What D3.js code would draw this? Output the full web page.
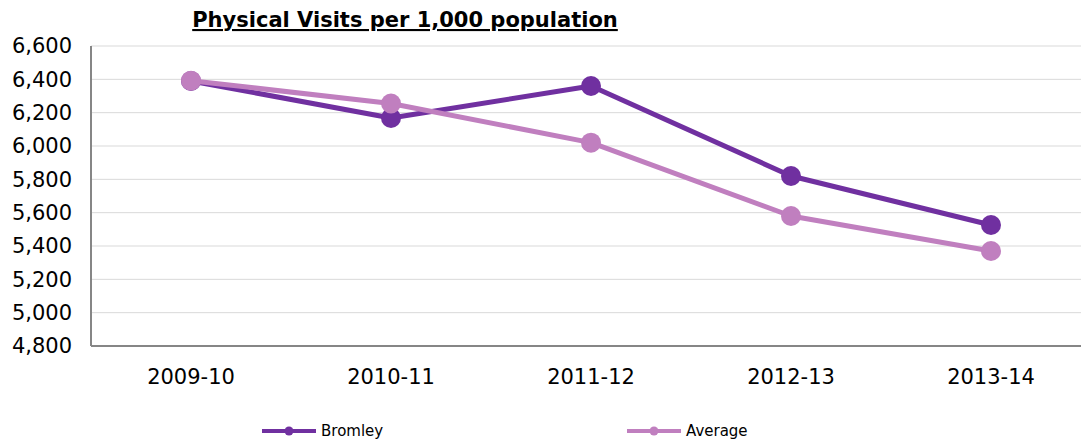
<!DOCTYPE html>
<html>
<head>
<meta charset="utf-8">
<script src="https://cdn.jsdelivr.net/npm/d3@7"></script>
<style>
  body { margin: 0; background: #fff; }
  svg { display: block; font-family: "DejaVu Sans", Verdana, sans-serif; }
</style>
</head>
<body>
<svg id="chart" width="1081" height="441"></svg>
<script>
const years = ['2009-10', '2010-11', '2011-12', '2012-13', '2013-14'];
const bromley = [6390, 6168, 6360, 5820, 5526];
const average = [6392, 6255, 6020, 5580, 5370];
const yTicks = [4800, 5000, 5200, 5400, 5600, 5800, 6000, 6200, 6400, 6600];

const series = [
    { name: 'Bromley', values: bromley, color: '#7030a0' },
    { name: 'Average', values: average, color: '#c07fbf' }
];

const svg = d3.select('#chart');
const margin = { left: 91, top: 46, right: -10, bottom: 95 };
const width = 1081 - margin.left - margin.right;
const height = 441 - margin.top - margin.bottom;

const x = d3.scaleBand().domain(years).range([0, width]);
const y = d3.scaleLinear().domain([4800, 6600]).range([height, 0]);

const g = svg.append('g').attr('transform', `translate(${margin.left},${margin.top})`);

// gridlines
g.append('g')
    .selectAll('line')
    .data(yTicks.slice(1))
    .enter()
    .append('line')
    .attr('x1', 0)
    .attr('x2', width)
    .attr('y1', d => y(d))
    .attr('y2', d => y(d))
    .attr('stroke', '#d9d9d9')
    .attr('stroke-width', 1);

// y axis labels
const yAxis = g.append('g')
    .call(d3.axisLeft(y).tickValues(yTicks).tickFormat(d3.format(',')).tickSize(0).tickPadding(19))
    .attr('font-family', null)
    .attr('font-size', null);
yAxis.select('.domain').remove();
yAxis.selectAll('text').style('font-size', '21px').attr('fill', '#000');

// x axis labels
const xAxis = g.append('g')
    .attr('transform', `translate(0,${height})`)
    .call(d3.axisBottom(x).tickSize(0).tickPadding(23))
    .attr('font-family', null)
    .attr('font-size', null);
xAxis.select('.domain').remove();
xAxis.selectAll('text').style('font-size', '21px').attr('fill', '#000');

// axis lines
g.append('line').attr('x1', 0).attr('x2', 0).attr('y1', 0).attr('y2', height)
    .attr('stroke', '#868686').attr('stroke-width', 2);
g.append('line').attr('x1', 0).attr('x2', width).attr('y1', height).attr('y2', height)
    .attr('stroke', '#868686').attr('stroke-width', 2);

const line = d3.line()
    .x((d, i) => x(years[i]) + x.bandwidth() / 2)
    .y(d => y(d));

series.forEach(s => {
    g.append('path')
        .datum(s.values)
        .attr('fill', 'none')
        .attr('stroke', s.color)
        .attr('stroke-width', 5)
        .attr('stroke-linejoin', 'round')
        .attr('d', line);
    g.selectAll(null)
        .data(s.values)
        .enter()
        .append('circle')
        .attr('cx', (d, i) => x(years[i]) + x.bandwidth() / 2)
        .attr('cy', d => y(d))
        .attr('r', 10)
        .attr('fill', s.color);
});

// title
svg.append('text')
    .attr('x', 405)
    .attr('y', 27)
    .attr('text-anchor', 'middle')
    .style('font-size', '21px')
    .style('font-weight', 'bold')
    .style('text-decoration', 'underline')
    .text('Physical Visits per 1,000 population');

// legend
const legendX = [262, 627];
series.forEach((s, i) => {
    const lg = svg.append('g').attr('transform', `translate(${legendX[i]},431)`);
    lg.append('line').attr('x1', 0).attr('x2', 54).attr('y1', 0).attr('y2', 0)
        .attr('stroke', s.color).attr('stroke-width', 4);
    lg.append('circle').attr('cx', 27).attr('cy', 0).attr('r', 4.5).attr('fill', s.color);
    lg.append('text').attr('x', 59).attr('y', 0).attr('dy', '0.35em')
        .style('font-size', '15px').text(s.name);
});
</script>
</body>
</html>
